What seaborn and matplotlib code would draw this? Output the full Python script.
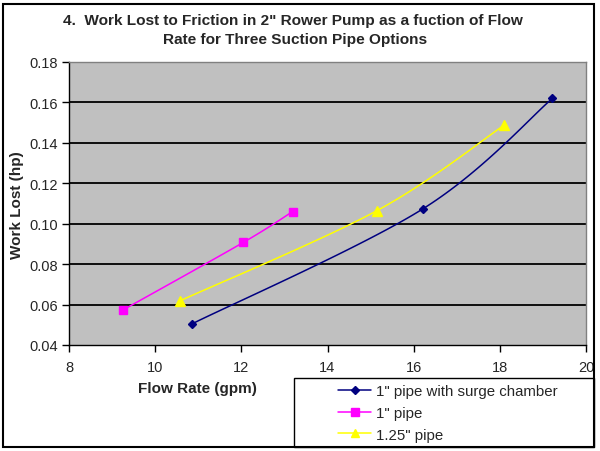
import numpy as np
import pandas as pd
import matplotlib
matplotlib.use("Agg")
import matplotlib.pyplot as plt
import seaborn as sns
from matplotlib.patches import Rectangle
from matplotlib.lines import Line2D

# ---- data ----
series_names = ['1" pipe with surge chamber', '1" pipe', '1.25" pipe']
surge_x = [10.85, 16.21, 19.22]
surge_y = [0.0504, 0.1073, 0.1620]
pipe1_x = [9.25, 12.05, 13.19]
pipe1_y = [0.0573, 0.0908, 0.1060]
pipe125_x = [10.58, 15.15, 18.09]
pipe125_y = [0.0619, 0.1065, 0.1486]

colors = ["#000080", "#FF00FF", "#FFFF00"]
markers = ["D", "s", "^"]
msizes = [4.2, 6, 7]

title_lines = ['4.  Work Lost to Friction in 2" Rower Pump as a fuction of Flow',
               'Rate for Three Suction Pipe Options']
x_label = "Flow Rate (gpm)"
y_label = "Work Lost (hp)"
x_ticks = [8, 10, 12, 14, 16, 18, 20]
y_ticks = [0.04, 0.06, 0.08, 0.10, 0.12, 0.14, 0.16, 0.18]

sns.set_style("white")
plt.rcParams["font.family"] = ["Liberation Sans", "DejaVu Sans"]

fig = plt.figure(figsize=(6, 4.52), dpi=100)
ax = fig.add_axes([69/600, 1-346/452, (586-69)/600, (346-63)/452])
ax.set_facecolor("#C0C0C0")
ax.set_xlim(8, 20)
ax.set_ylim(0.04, 0.18)

# scale factors (pixel per unit) for Excel-style smoothing
sx = (586-69)/12.0
sy = (346-63)/0.14

def smooth(xs, ys, n=40):
    P = np.column_stack([np.array(xs)*sx, np.array(ys)*sy])
    P = np.vstack([P[0], P, P[-1]])
    out = []
    for i in range(1, len(P)-2):
        p0, p1, p2, p3 = P[i-1], P[i], P[i+1], P[i+2]
        c1 = p1 + (p2 - p0)/6.0
        c2 = p2 - (p3 - p1)/6.0
        t = np.linspace(0, 1, n)[:, None]
        b = (1-t)**3*p1 + 3*(1-t)**2*t*c1 + 3*(1-t)*t**2*c2 + t**3*p2
        out.append(b if i == 1 else b[1:])
    B = np.vstack(out)
    return B[:, 0]/sx, B[:, 1]/sy

data = [(surge_x, surge_y), (pipe1_x, pipe1_y), (pipe125_x, pipe125_y)]
curves = []
points = []
for name, (xs, ys) in zip(series_names, data):
    cx, cy = smooth(xs, ys)
    curves.append(pd.DataFrame({"x": cx, "y": cy, "series": name}))
    points.append(pd.DataFrame({"x": xs, "y": ys, "series": name}))
curves = pd.concat(curves)
points = pd.concat(points)

for y in y_ticks[1:-1]:
    ax.axhline(y, color="black", lw=1.3, zorder=1)

for name, c, m, ms in zip(series_names, colors, markers, msizes):
    sub = curves[curves.series == name]
    sns.lineplot(data=sub, x="x", y="y", sort=False, estimator=None, color=c, lw=1.1, ax=ax, zorder=3)
    psub = points[points.series == name]
    ax.plot(psub.x, psub.y, linestyle="none", marker=m, color=c, markersize=ms, zorder=4,
            markeredgecolor=c)

ax.set_xticks(x_ticks)
ax.set_yticks(y_ticks)
ax.set_xticklabels([str(v) for v in x_ticks], fontsize=10.5)
ax.set_yticklabels([f"{v:.2f}" for v in y_ticks], fontsize=10.5)
ax.tick_params(axis="both", direction="out", length=5, width=1, color="black", pad=3,
               bottom=True, left=True)
ax.tick_params(axis="x", pad=6)
ax.set_xlabel("")
ax.set_ylabel("")
for s in ["left", "bottom"]:
    ax.spines[s].set_color("black")
    ax.spines[s].set_linewidth(1)
for s in ["top", "right"]:
    ax.spines[s].set_color("#808080")
    ax.spines[s].set_linewidth(1)

fig.text(293/600, 1-21/452, title_lines[0], ha="center", va="center", fontsize=11.1, fontweight="bold")
fig.text(295/600, 1-40/452, title_lines[1], ha="center", va="center", fontsize=11.1, fontweight="bold")
fig.text(197/600, 1-389/452, x_label, ha="center", va="center", fontsize=11, fontweight="bold")
fig.text(17/600, 1-205/452, y_label, ha="center", va="center", rotation=90, fontsize=11, fontweight="bold")

# figure border
fig.patches.append(Rectangle((3/600, 4/452), 591/600, 443/452, transform=fig.transFigure,
                             fill=False, edgecolor="black", lw=1.5))
# legend box
fig.patches.append(Rectangle((294/600, 4/452), 300/600, (448-379)/452, transform=fig.transFigure,
                             fill=False, edgecolor="black", lw=1))
handles = [Line2D([0], [0], color=c, marker=m, markersize=ms*0.9, lw=1.1, markeredgecolor=c)
           for c, m, ms in zip(colors, markers, msizes)]
fig.legend(handles, series_names, loc="upper left", bbox_to_anchor=(338/600, 1-385/452),
           frameon=False, fontsize=10.8, handlelength=2.2, handletextpad=0.33, labelspacing=0.52,
           borderpad=0, borderaxespad=0)

fig.savefig("out.png", dpi=100)
